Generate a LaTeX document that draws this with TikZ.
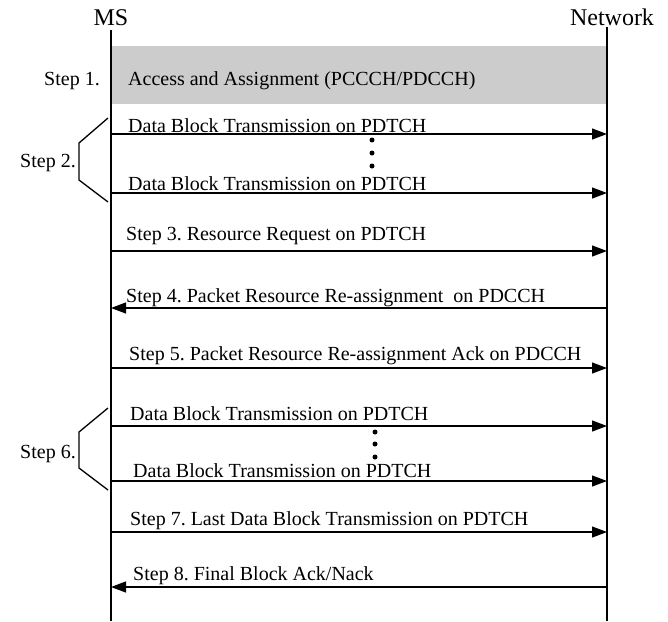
\documentclass[tikz,border=0pt]{standalone}
\usepackage{fontspec}
\setmainfont{Liberation Serif}
\usetikzlibrary{arrows.meta}
\frenchspacing
\begin{document}
\begin{tikzpicture}[x=1pt,y=-1pt,
  life/.style={line width=1.4pt},
  msg/.style={line width=1.2pt,-{Triangle[length=15pt,width=11pt]}},
  lbl/.style={anchor=base west,inner sep=0pt,font=\fontsize{20}{24}\selectfont},
  steplbl/.style={anchor=base east,inner sep=0pt,font=\fontsize{20}{24}\selectfont},
  hdr/.style={anchor=base,inner sep=0pt,font=\fontsize{24}{28}\selectfont},
  bracket/.style={line width=1.3pt},
  bigdot/.style={circle,fill=black,inner sep=0pt,minimum size=5pt}]
\useasboundingbox (0,0) rectangle (668,621);
% shaded step 1 area
\fill[black!20] (111,46) rectangle (607,104);
% headers
\node[hdr] (ms) at (111,25) {MS};
\node[hdr] (nw) at (612,25) {Network};
% lifelines
\coordinate (mstop) at (111,30);
\coordinate (msbot) at (111,621);
\coordinate (nwtop) at (607,27);
\coordinate (nwbot) at (607,621);
\draw[life] (mstop) -- (msbot);
\draw[life] (nwtop) -- (nwbot);
% step labels
\node[steplbl] (s1) at (100,85) {Step 1.};
\node[lbl] (t1) at (128,85) {Access and Assignment (PCCCH/PDCCH)};
\node[steplbl] (s2) at (76,167) {Step 2.};
\node[steplbl] (s6) at (76,458) {Step 6.};
% brackets
\coordinate (b2a) at (108,118); \coordinate (b2b) at (79,143);
\coordinate (b2c) at (79,180);  \coordinate (b2d) at (108,202);
\draw[bracket] (b2a) -- (b2b) -- (b2c) -- (b2d);
\coordinate (b6a) at (108,408); \coordinate (b6b) at (79,432);
\coordinate (b6c) at (79,468);  \coordinate (b6d) at (108,490);
\draw[bracket] (b6a) -- (b6b) -- (b6c) -- (b6d);
% message endpoints
\foreach \n/\y in {a/134,b/193,c/251,d/308,e/368,f/426,g/481,h/532,i/587}{
  \coordinate (m\n) at (111,\y);
  \coordinate (n\n) at (607,\y);
}
% messages
\node[lbl] (la) at (128,132) {Data Block Transmission on PDTCH};
\draw[msg] (ma) -- (na);
\node[lbl] (lb) at (128,190) {Data Block Transmission on PDTCH};
\draw[msg] (mb) -- (nb);
\node[lbl] (lc) at (126,240) {Step 3. Resource Request on PDTCH};
\draw[msg] (mc) -- (nc);
\node[lbl] (ld) at (126,302) {Step 4. Packet Resource Re-assignment\ \ on PDCCH};
\draw[msg] (nd) -- (md);
\node[lbl] (le) at (129,360) {Step 5. Packet Resource Re-assignment Ack on PDCCH};
\draw[msg] (me) -- (ne);
\node[lbl] (lf) at (130,420) {Data Block Transmission on PDTCH};
\draw[msg] (mf) -- (nf);
\node[lbl] (lg) at (133,477) {Data Block Transmission on PDTCH};
\draw[msg] (mg) -- (ng);
\node[lbl] (lh) at (130,525) {Step 7. Last Data Block Transmission on PDTCH};
\draw[msg] (mh) -- (nh);
\node[lbl] (li) at (133,580) {Step 8. Final Block Ack/Nack};
\draw[msg] (ni) -- (mi);
% ellipsis dots
\node[bigdot] (d21) at (372,140) {};
\node[bigdot] (d22) at (372,153) {};
\node[bigdot] (d23) at (372,166) {};
\node[bigdot] (d61) at (375,432) {};
\node[bigdot] (d62) at (375,444) {};
\node[bigdot] (d63) at (375,457) {};
\end{tikzpicture}
\end{document}
